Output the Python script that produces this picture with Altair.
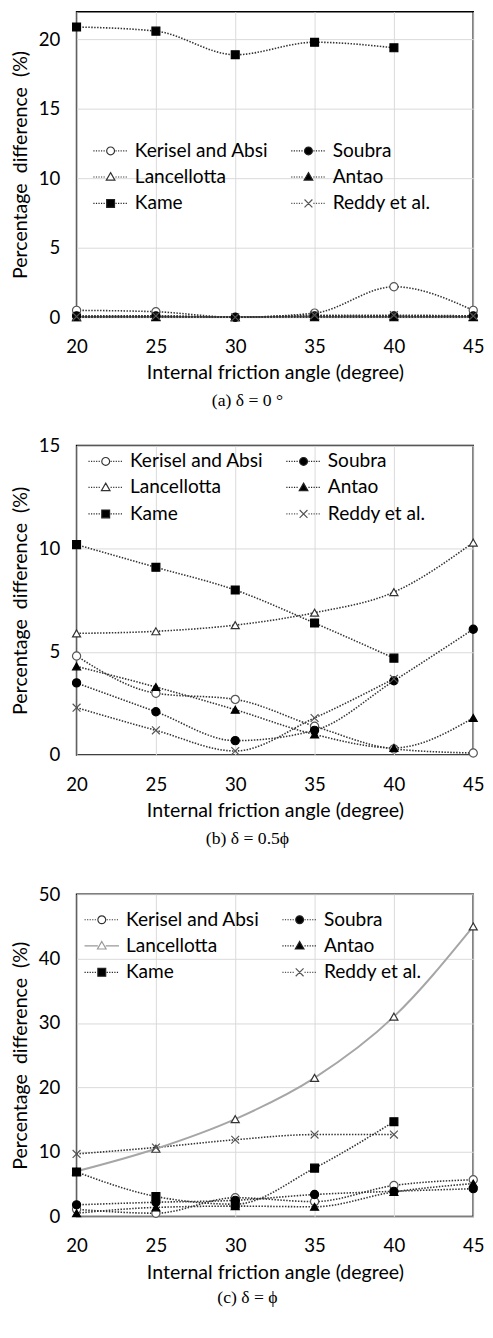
import altair as alt
import pandas as pd

angles = [20, 25, 30, 35, 40, 45]
series = ["Kerisel and Absi", "Soubra", "Lancellotta", "Antao", "Kame", "Reddy et al."]

# (a) delta = 0
a_kerisel = [0.5, 0.4, 0.0, 0.3, 2.2, 0.5]
a_soubra = [0.1, 0.1, 0.0, 0.1, 0.1, 0.1]
a_lancellotta = [0.0, 0.05, 0.0, 0.1, 0.1, 0.05]
a_antao = [0.0, 0.0, 0.0, 0.0, 0.0, 0.0]
a_kame = [20.9, 20.6, 18.9, 19.8, 19.4, None]
a_reddy = [0.05, 0.1, 0.0, 0.15, 0.15, 0.1]

# (b) delta = 0.5 phi
b_kerisel = [4.8, 3.0, 2.7, 1.4, 0.3, 0.1]
b_soubra = [3.5, 2.1, 0.7, 1.2, 3.6, 6.1]
b_lancellotta = [5.9, 6.0, 6.3, 6.9, 7.9, 10.3]
b_antao = [4.3, 3.3, 2.2, 1.0, 0.35, 1.8]
b_kame = [10.2, 9.1, 8.0, 6.4, 4.7, None]
b_reddy = [2.3, 1.2, 0.2, 1.8, 3.7, None]

# (c) delta = phi
c_kerisel = [1.1, 0.5, 2.9, 2.3, 4.8, 5.7]
c_soubra = [1.8, 2.2, 2.5, 3.4, 3.9, 4.3]
c_lancellotta = [7.0, 10.5, 15.1, 21.5, 31.0, 45.0]
c_antao = [0.5, 1.4, 1.6, 1.5, 3.8, 5.1]
c_kame = [6.9, 3.1, 1.9, 7.5, 14.7, None]
c_reddy = [9.7, 10.7, 11.9, 12.7, 12.7, None]

y_title = "Percentage\u00a0\u00a0difference\u00a0\u00a0(%)"
x_title = "Internal friction angle (degree)"

# legend is laid out column by column, so this order reads row by row
legend_order = ["Kerisel and Absi", "Lancellotta", "Kame", "Soubra", "Antao", "Reddy et al."]


def long_df(cols):
    rows = []
    for name, vals in zip(series, cols):
        for ang, v in zip(angles, vals):
            if v is not None:
                rows.append({"angle": ang, "value": v, "series": name})
    return pd.DataFrame(rows)


# marker styles (in `series` order)
XMARK = "M-1,-1L1,1M-1,1L1,-1"
plot_shapes = ["circle", "circle", "triangle-up", "triangle-up", "square", XMARK]
plot_fills = ["white", "black", "white", "black", "black", "transparent"]
plot_strokes = ["#555555", "black", "#333333", "black", "black", "#555555"]
plot_sizes = [70, 64, 75, 75, 90, 70]


def dots(x0, x1, dash=0.3, gap=0.35):
    out = []
    x = x0
    while x + 1e-6 < x1:
        e = min(x + dash, x1)
        out.append(f"M{x:.2f},0H{e:.2f}")
        x += dash + gap
    return "".join(out)


CIRCLE = "M1,0A1,1 0 1,1 -1,0A1,1 0 1,1 1,0Z"
TRI = "M0,-1.1L1.1,0.8L-1.1,0.8Z"
SQUARE = "M-1,-1H1V1H-1Z"


def legend_path(marker, solid=False):
    if solid:
        return "M-4.4,0H-1.0" + marker + "M1.0,0H4.4"
    return dots(-4.4, -1.25) + marker + dots(1.25, 4.4)


def make_panel(cols, ymax, yticks, height, caption, leg_x, leg_y, lanc_solid, cap_offset):
    df = long_df(cols)
    base = alt.Chart(df)
    x = alt.X("angle:Q", scale=alt.Scale(domain=[20, 45], nice=False, zero=False),
              axis=alt.Axis(values=angles, title=x_title))
    y = alt.Y("value:Q", scale=alt.Scale(domain=[0, ymax], nice=False),
              axis=alt.Axis(values=yticks, title=y_title))

    dotted_src = base.transform_filter("datum.series != 'Lancellotta'") if lanc_solid else base
    dotted = dotted_src.mark_line(interpolate="monotone", strokeDash=[1.5, 1.5],
                                  color="#333333", strokeWidth=1.6).encode(
        x=x, y=y, detail="series:N")
    layers = [dotted]
    if lanc_solid:
        solid = base.transform_filter("datum.series == 'Lancellotta'").mark_line(
            interpolate="monotone", color="#a6a6a6", strokeWidth=2).encode(x=x, y=y)
        layers.append(solid)

    points = base.mark_point(filled=True, opacity=1, strokeWidth=1.2).encode(
        x=x, y=y,
        shape=alt.Shape("series:N", scale=alt.Scale(domain=series, range=plot_shapes), legend=None),
        fill=alt.Fill("series:N", scale=alt.Scale(domain=series, range=plot_fills), legend=None),
        stroke=alt.Stroke("series:N", scale=alt.Scale(domain=series, range=plot_strokes), legend=None),
        size=alt.Size("series:N", scale=alt.Scale(domain=series, range=plot_sizes), legend=None),
    )
    layers.append(points)

    path_by = {
        "Kerisel and Absi": legend_path(CIRCLE),
        "Soubra": legend_path(CIRCLE),
        "Lancellotta": legend_path(TRI, solid=lanc_solid),
        "Antao": legend_path(TRI),
        "Kame": legend_path(SQUARE),
        "Reddy et al.": legend_path(XMARK),
    }
    fill_by = {"Kerisel and Absi": "white", "Soubra": "black", "Lancellotta": "white",
               "Antao": "black", "Kame": "black", "Reddy et al.": "white"}
    stroke_by = {"Kerisel and Absi": "#333333", "Soubra": "#222222",
                 "Lancellotta": "#999999" if lanc_solid else "#333333",
                 "Antao": "#222222", "Kame": "#222222", "Reddy et al.": "#555555"}
    leg_paths = [path_by[s] for s in legend_order]
    leg_fills = [fill_by[s] for s in legend_order]
    leg_strokes = [stroke_by[s] for s in legend_order]

    legend = alt.Legend(orient="none", legendX=leg_x, legendY=leg_y, columns=2, title=None)
    legend_layer = base.transform_filter("false").mark_point(filled=True, opacity=1).encode(
        x=x, y=y,
        shape=alt.Shape("series:N", scale=alt.Scale(domain=legend_order, range=leg_paths), legend=legend),
        fill=alt.Fill("series:N", scale=alt.Scale(domain=legend_order, range=leg_fills), legend=legend),
        stroke=alt.Stroke("series:N", scale=alt.Scale(domain=legend_order, range=leg_strokes), legend=legend),
    )
    layers.append(legend_layer)

    return alt.layer(*layers).resolve_scale(
        shape="independent", fill="independent", stroke="independent", size="independent"
    ).properties(
        width=405, height=height,
        title=alt.TitleParams(text=caption, orient="bottom", anchor="middle", frame="bounds",
                              font="Liberation Serif", fontSize=18, fontWeight="normal",
                              color="black", offset=cap_offset),
    )


pa = make_panel([a_kerisel, a_soubra, a_lancellotta, a_antao, a_kame, a_reddy],
                22, [0, 5, 10, 15, 20], 312, "(a)  δ = 0 °", 12, 132, False, 10)
pb = make_panel([b_kerisel, b_soubra, b_lancellotta, b_antao, b_kame, b_reddy],
                15, [0, 5, 10, 15], 316, "(b)  δ = 0.5ϕ", 7, 6, False, 10)
pc = make_panel([c_kerisel, c_soubra, c_lancellotta, c_antao, c_kame, c_reddy],
                50, [0, 10, 20, 30, 40, 50], 329, "(c)  δ = ϕ", 3, 16, True, 7)

chart = alt.vconcat(
    alt.vconcat(pa, pb, spacing=25), pc, spacing=36,
    padding={"left": 2, "right": 0, "top": -11, "bottom": 0},
).configure(font="Lato").configure_view(
    stroke="black", strokeWidth=1.5
).configure_axis(
    domain=False, ticks=False, grid=True, gridColor="#d9d9d9", gridWidth=1,
    labelFont="Lato", labelFontSize=19, labelColor="black", labelFlush=False,
    titleFont="Lato", titleFontSize=20, titleFontWeight="normal", titleColor="black",
).configure_axisX(labelPadding=21, titlePadding=7).configure_axisY(
    labelPadding=17, titlePadding=8
).configure_legend(
    labelFont="Lato", labelFontSize=19.5, labelColor="black", labelLimit=300,
    symbolSize=64, symbolStrokeWidth=1.2, symbolOffset=13, labelOffset=15,
    rowPadding=6, columnPadding=18, padding=0, symbolStrokeColor="#333333",
)

chart.save("out.html", embed_options={"renderer": "svg", "actions": False})
